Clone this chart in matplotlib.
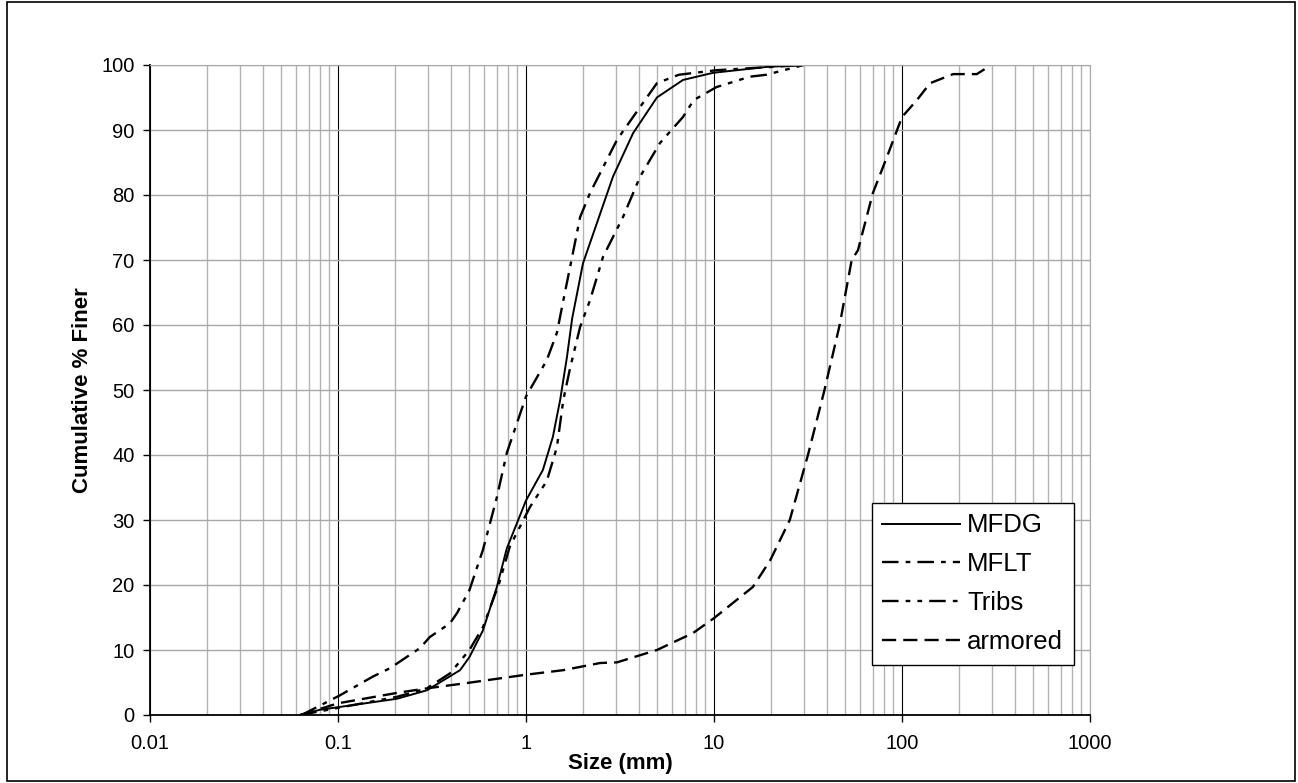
import matplotlib
matplotlib.use("Agg")
import matplotlib.pyplot as plt
from matplotlib.patches import Rectangle
from matplotlib.ticker import LogLocator, FixedLocator, NullFormatter

plt.rcParams['font.family'] = ['Liberation Sans', 'DejaVu Sans']

# Data (size in mm, cumulative % finer)
mfdg_x = [0.063, 0.080, 0.206, 0.297, 0.446, 0.50, 0.59, 0.70, 0.79, 1.0, 1.23, 1.39, 1.52, 1.65, 1.76,
          2.01, 2.90, 3.71, 4.97, 6.84, 9.9, 19, 30]
mfdg_y = [0, 0.8, 2.5, 3.8, 6.9, 8.9, 13, 19.7, 25.6, 33, 37.7, 42.8, 48.5, 55, 61,
          69.5, 82.8, 89.5, 95, 97.7, 98.8, 99.7, 100]

mflt_x = [0.064, 0.102, 0.153, 0.189, 0.273, 0.308, 0.394, 0.43, 0.50, 0.59, 0.70, 0.79, 1.0, 1.29, 1.46,
          1.58, 1.76, 1.94, 2.19, 3.05, 3.71, 4.97, 6.5, 10.3, 30]
mflt_y = [0, 3, 5.9, 7.2, 10.3, 12, 14.1, 15.7, 19.2, 25.4, 33.5, 40.3, 49, 54.6, 58.8,
          63.8, 70.5, 76.6, 80.3, 88.5, 92, 97.2, 98.5, 99.2, 100]

tribs_x = [0.063, 0.206, 0.297, 0.394, 0.50, 0.59, 0.72, 0.82, 1.05, 1.29, 1.46, 1.58, 1.72, 1.94, 2.19,
           2.57, 3.28, 4.04, 5.16, 6.84, 7.8, 10.3, 15.5, 19, 30]
tribs_y = [0, 2.8, 4.1, 6.4, 10, 13.5, 20.3, 25.9, 32, 36, 41.2, 48.5, 53.5, 59.7, 63.8,
           70.5, 76.6, 82.8, 88, 92, 94.6, 96.6, 98.2, 98.5, 100]

armored_x = [0.063, 0.1, 0.206, 0.297, 0.48, 1.0, 1.58, 2.48, 3.05, 4.97, 7.73, 10, 13.2, 16.1, 19.9,
             25.3, 31.6, 38.7, 46.6, 54, 58.3, 70, 83, 100, 120, 141, 187, 250, 287]
armored_y = [0, 1.8, 3.4, 4.1, 4.9, 6.2, 6.9, 8.0, 8.1, 10, 12.6, 14.9, 17.7, 19.7, 23.8,
             30, 40, 50, 60, 70, 71.5, 80.3, 85.8, 92, 94.6, 97.2, 98.6, 98.6, 99.7]

x_ticks = [0.01, 0.1, 1, 10, 100, 1000]
x_tick_labels = ['0.01', '0.1', '1', '10', '100', '1000']
y_ticks = [0, 10, 20, 30, 40, 50, 60, 70, 80, 90, 100]

fig = plt.figure(figsize=(12.98, 7.83), dpi=100)
ax = fig.add_axes([150 / 1298, 1 - 715 / 783, (1090 - 150) / 1298, (715 - 65) / 783])

# figure border
fig.patches.append(Rectangle((7 / 1298, 2 / 783), 1288 / 1298, 779 / 783, transform=fig.transFigure,
                             fill=False, edgecolor='black', linewidth=1.2))

ax.set_xscale('log')
ax.set_xlim(0.01, 1000)
ax.set_ylim(0, 100)

# grid
ax.xaxis.set_minor_locator(LogLocator(base=10, subs=range(2, 10)))
ax.xaxis.set_minor_formatter(NullFormatter())
ax.xaxis.set_major_locator(FixedLocator(x_ticks))
ax.set_xticklabels(x_tick_labels)
ax.set_yticks(y_ticks)
ax.grid(which='minor', axis='x', color='#b4b4b4', linewidth=1.0)
ax.grid(which='major', axis='x', color='#000000', linewidth=0.8)
ax.grid(which='major', axis='y', color='#a8a8a8', linewidth=1.0)
ax.set_axisbelow(True)

ax.tick_params(axis='x', which='minor', length=0)
ax.tick_params(axis='both', which='major', direction='out', length=5, width=1, labelsize=14.5, colors='black')
ax.tick_params(axis='x', which='major', pad=9)
ax.tick_params(axis='y', which='major', pad=6)

for s in ['top', 'right']:
    ax.spines[s].set_color('#a8a8a8')
for s in ['left', 'bottom']:
    ax.spines[s].set_color('black')
    ax.spines[s].set_linewidth(1.3)

lw = 1.4
ax.plot(mfdg_x, mfdg_y, color='black', linestyle='-', linewidth=lw, label='MFDG')
ax.plot(mflt_x, mflt_y, color='black', linestyle=(0, (7, 3, 2, 3)), linewidth=lw + 0.3, label='MFLT')
ax.plot(tribs_x, tribs_y, color='black', linestyle=(0, (7, 3, 2, 3, 2, 3)), linewidth=lw + 0.3, label='Tribs')
ax.plot(armored_x, armored_y, color='black', linestyle=(0, (6, 3)), linewidth=lw + 0.3, label='armored')

ax.set_xlabel('Size (mm)', fontsize=16, fontweight='bold', labelpad=0)
ax.set_ylabel('Cumulative % Finer', fontsize=16, fontweight='bold', labelpad=6)

leg = ax.legend(loc='lower right', bbox_to_anchor=(1074 / 1298, 1 - 665 / 783), bbox_transform=fig.transFigure,
                fontsize=18.5, frameon=True, fancybox=False, edgecolor='black', framealpha=1,
                handlelength=3.0, handletextpad=0.3, labelspacing=0.58, borderpad=0.42, borderaxespad=0)
leg.get_frame().set_linewidth(1.0)

fig.savefig('out.png', dpi=100)
